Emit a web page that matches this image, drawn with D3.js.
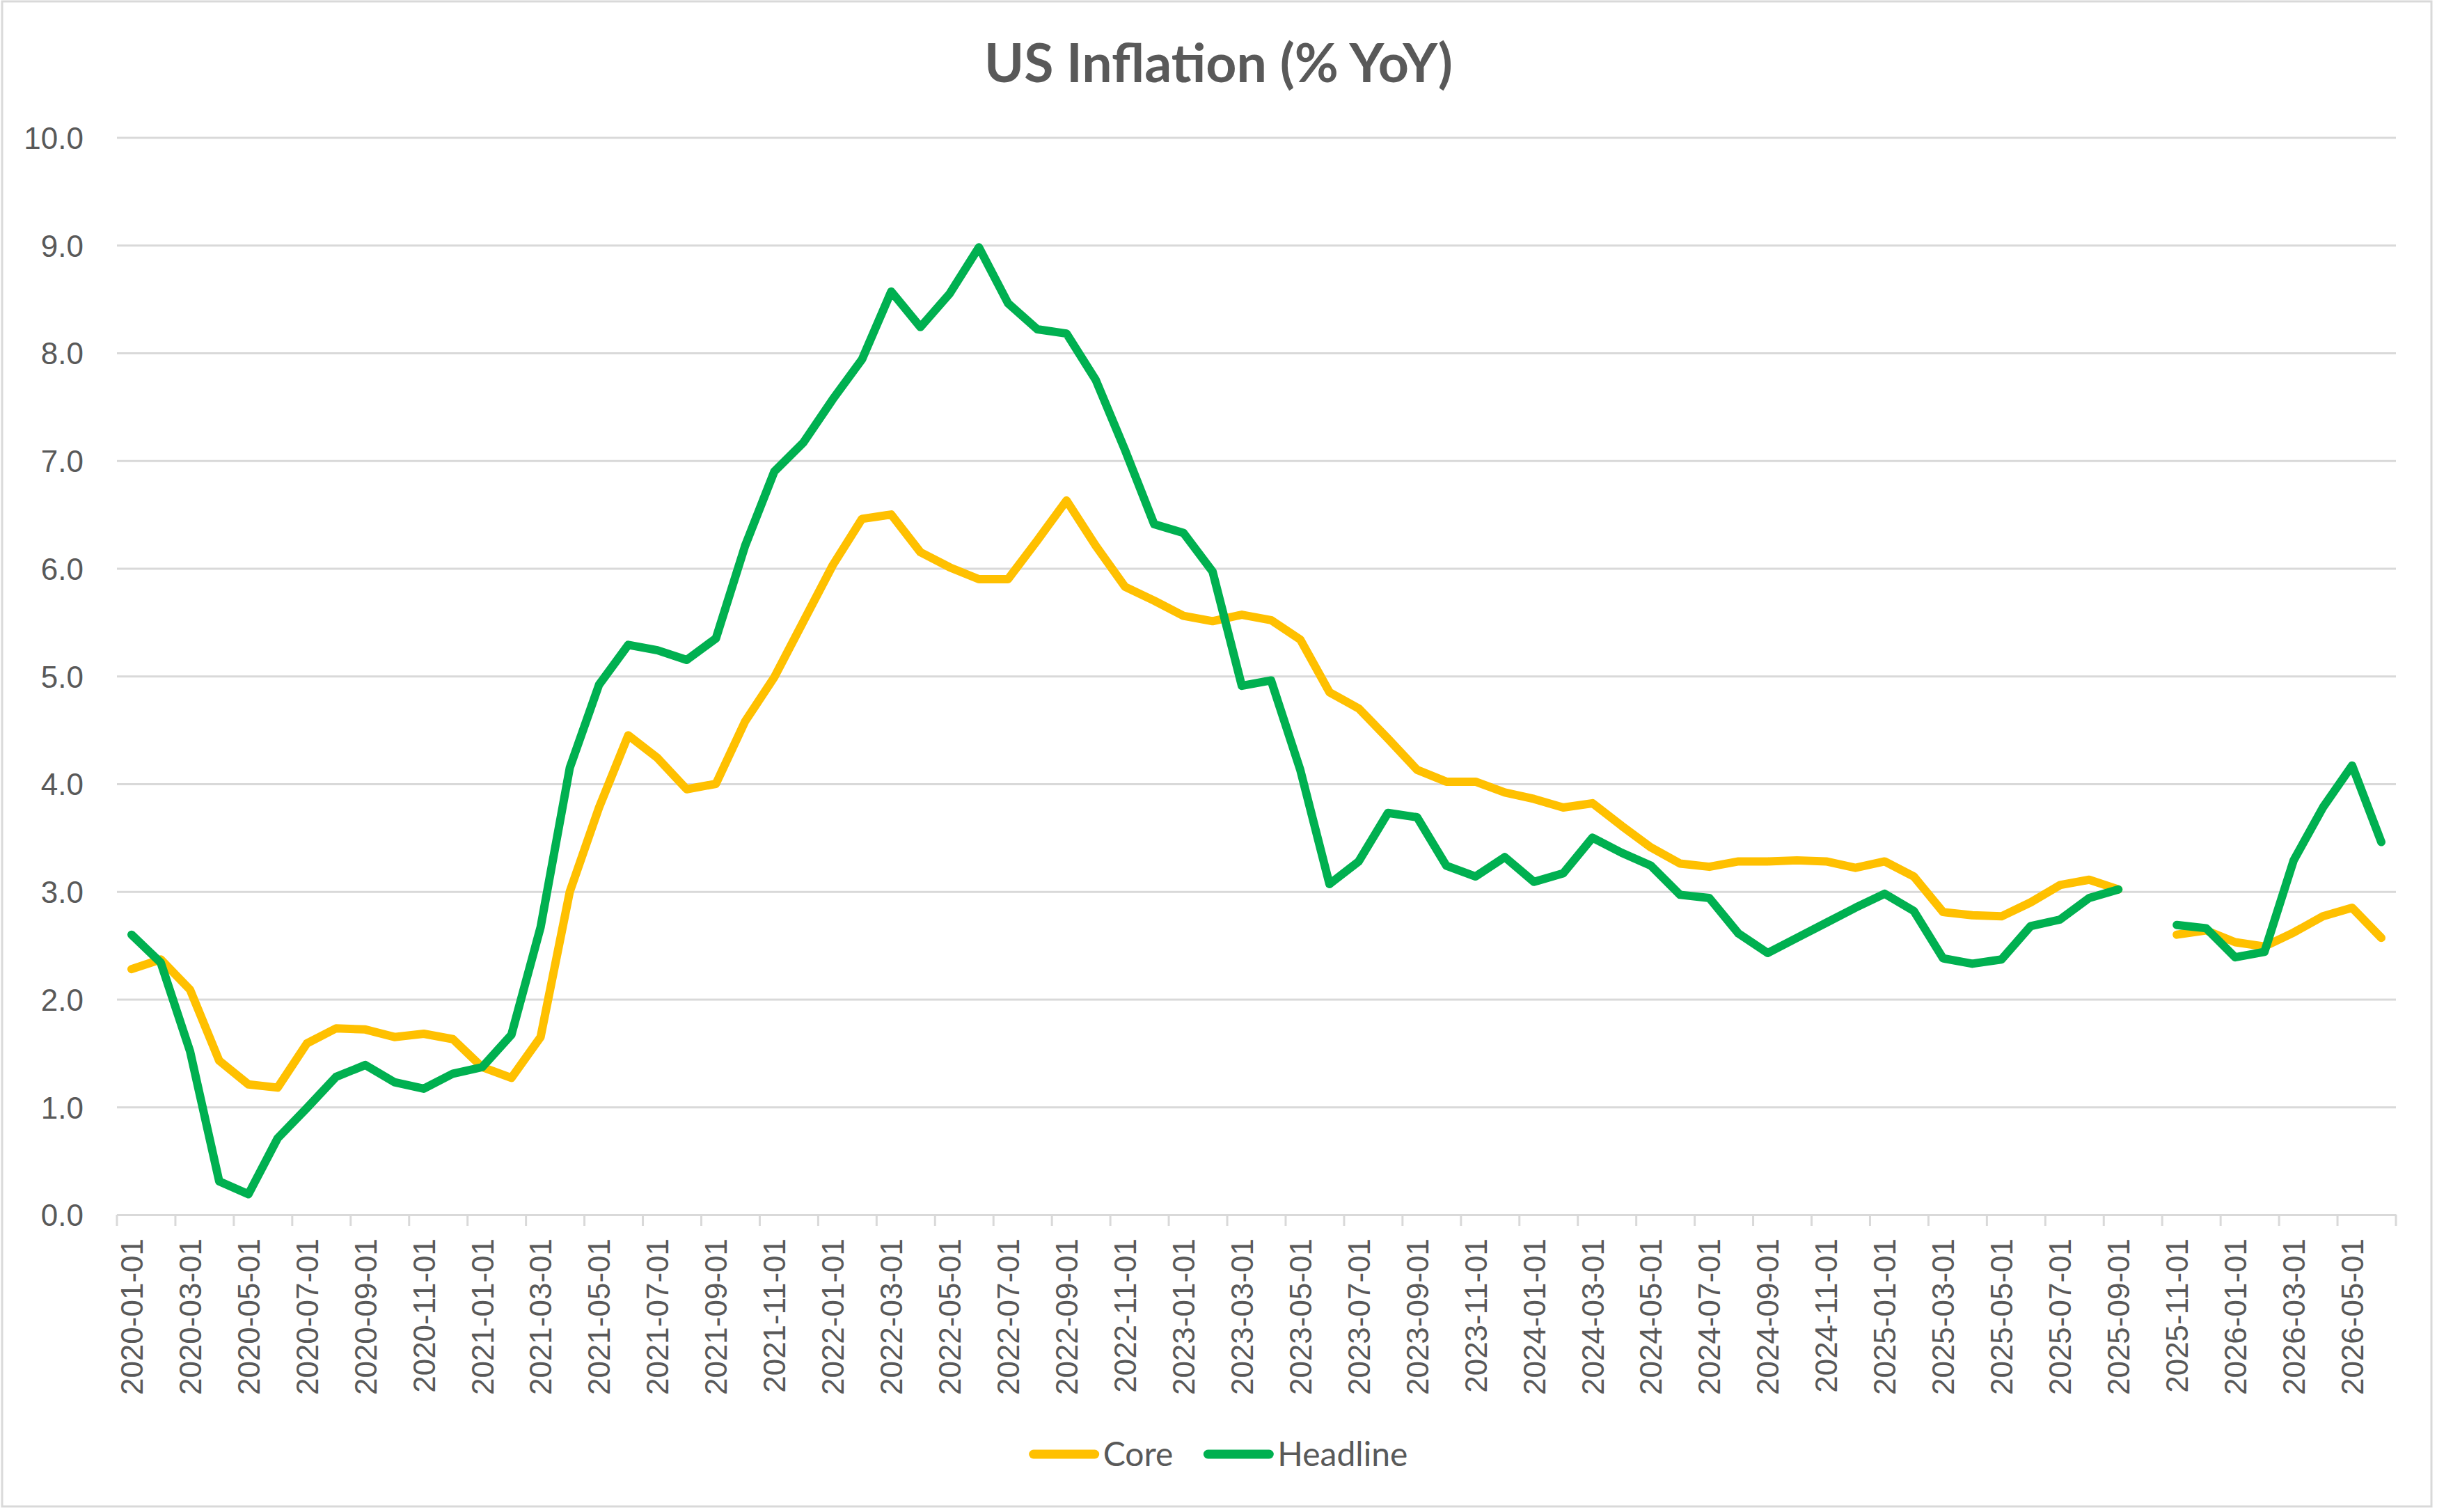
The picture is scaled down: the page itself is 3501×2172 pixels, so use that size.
<!doctype html>
<html lang="en">
<head>
    <meta charset="UTF-8">
    <title>US Inflation</title>
    <style>
        html, body {
            margin: 0;
            padding: 0;
            background: #fff;
        }

        svg {
            display: block;
            font-family: 'Lato', sans-serif;
        }

        .axis text {
            fill: #595959;
            font-size: 44px;
        }

        .grid line, .axis path {
            stroke: #d9d9d9;
            stroke-width: 3px;
        }
    </style>
</head>
<body>
<svg width="3501" height="2172"></svg>
<script src="https://d3js.org/d3.v7.min.js"></script>
<script>
  const categories = [
    '2020-01-01', '2020-02-01', '2020-03-01', '2020-04-01', '2020-05-01', '2020-06-01',
    '2020-07-01', '2020-08-01', '2020-09-01', '2020-10-01', '2020-11-01', '2020-12-01',
    '2021-01-01', '2021-02-01', '2021-03-01', '2021-04-01', '2021-05-01', '2021-06-01',
    '2021-07-01', '2021-08-01', '2021-09-01', '2021-10-01', '2021-11-01', '2021-12-01',
    '2022-01-01', '2022-02-01', '2022-03-01', '2022-04-01', '2022-05-01', '2022-06-01',
    '2022-07-01', '2022-08-01', '2022-09-01', '2022-10-01', '2022-11-01', '2022-12-01',
    '2023-01-01', '2023-02-01', '2023-03-01', '2023-04-01', '2023-05-01', '2023-06-01',
    '2023-07-01', '2023-08-01', '2023-09-01', '2023-10-01', '2023-11-01', '2023-12-01',
    '2024-01-01', '2024-02-01', '2024-03-01', '2024-04-01', '2024-05-01', '2024-06-01',
    '2024-07-01', '2024-08-01', '2024-09-01', '2024-10-01', '2024-11-01', '2024-12-01',
    '2025-01-01', '2025-02-01', '2025-03-01', '2025-04-01', '2025-05-01', '2025-06-01',
    '2025-07-01', '2025-08-01', '2025-09-01', '2025-10-01', '2025-11-01', '2025-12-01',
    '2026-01-01', '2026-02-01', '2026-03-01', '2026-04-01', '2026-05-01', '2026-06-01'
  ]

  // 2025-10 has no print, so both series break there
  const core = [
    2.28, 2.37, 2.09, 1.43, 1.21, 1.18, 1.59, 1.73, 1.72, 1.65, 1.68, 1.63,
    1.37, 1.27, 1.65, 3.00, 3.78, 4.45, 4.24, 3.95, 4.00, 4.58, 4.99, 5.51,
    6.03, 6.46, 6.50, 6.15, 6.01, 5.90, 5.90, 6.26, 6.63, 6.21, 5.83, 5.70,
    5.56, 5.51, 5.57, 5.52, 5.34, 4.85, 4.70, 4.42, 4.13, 4.02, 4.02, 3.92,
    3.86, 3.78, 3.82, 3.61, 3.41, 3.26, 3.23, 3.28, 3.28, 3.29, 3.28, 3.22,
    3.28, 3.14, 2.81, 2.78, 2.77, 2.90, 3.06, 3.11, 3.02, null, 2.60, 2.64,
    2.53, 2.49, 2.62, 2.77, 2.85, 2.57
  ]

  const headline = [
    2.60, 2.34, 1.52, 0.31, 0.19, 0.71, 0.99, 1.28, 1.39, 1.23, 1.17, 1.31,
    1.37, 1.67, 2.67, 4.15, 4.92, 5.29, 5.24, 5.15, 5.35, 6.21, 6.90, 7.17,
    7.57, 7.94, 8.57, 8.24, 8.55, 8.98, 8.46, 8.22, 8.18, 7.75, 7.10, 6.41,
    6.33, 5.97, 4.91, 4.96, 4.13, 3.07, 3.28, 3.73, 3.69, 3.24, 3.14, 3.32,
    3.09, 3.17, 3.50, 3.36, 3.24, 2.97, 2.94, 2.61, 2.43, 2.57, 2.71, 2.85,
    2.98, 2.82, 2.38, 2.33, 2.37, 2.68, 2.74, 2.94, 3.02, null, 2.69, 2.66,
    2.39, 2.44, 3.29, 3.78, 4.17, 3.46
  ]

  const yTicks = [0, 1, 2, 3, 4, 5, 6, 7, 8, 9, 10]
  const xLabels = categories.filter((c, i) => i % 2 === 0)

  const seriesNames = ['Core', 'Headline']
  const seriesColors = ['#FFC000', '#00B050']

  const W = 3501, H = 2172
  const plot = {left: 168, right: 3442, top: 197.5, bottom: 1745}

  const svg = d3.select('svg')

  // chart frame
  svg.append('rect')
    .attr('x', 3).attr('y', 2)
    .attr('width', 3490).attr('height', 2162)
    .attr('fill', '#fff')
    .attr('stroke', '#d9d9d9')
    .attr('stroke-width', 3)

  svg.append('text')
    .attr('x', W / 2)
    .attr('y', 118)
    .attr('text-anchor', 'middle')
    .attr('fill', '#595959')
    .attr('font-size', 77)
    .attr('font-weight', 'bold')
    .text('US Inflation (% YoY)')

  const x = d3.scaleBand()
    .domain(categories)
    .range([plot.left, plot.right])
    .padding(0)

  const y = d3.scaleLinear()
    .domain([0, 10])
    .range([plot.bottom, plot.top])

  // gridlines + y labels
  const yAxis = svg.append('g')
    .attr('class', 'axis grid')
    .attr('transform', `translate(${plot.left},0)`)
    .call(d3.axisLeft(y)
      .tickValues(yTicks)
      .tickFormat(d3.format('.1f'))
      .tickSize(-(plot.right - plot.left))
      .tickPadding(48))
  yAxis.select('.domain').remove()
  yAxis.selectAll('text').attr('dy', '0.36em')

  // x axis line and labels
  const xAxis = svg.append('g')
    .attr('class', 'axis')
    .attr('transform', `translate(0,${plot.bottom})`)
    .call(d3.axisBottom(x).tickValues(xLabels).tickSize(0).tickSizeOuter(0))
  xAxis.selectAll('text')
    .attr('transform', 'rotate(-90)')
    .attr('text-anchor', 'end')
    .attr('x', -34)
    .attr('y', 0)
    .attr('dy', '0.36em')

  // Excel-style tick marks between categories, every second one
  const tickPos = xLabels.map(c => x(c)).concat([plot.right])
  svg.append('g')
    .selectAll('line')
    .data(tickPos)
    .enter()
    .append('line')
    .attr('x1', d => d).attr('x2', d => d)
    .attr('y1', plot.bottom).attr('y2', plot.bottom + 16)
    .attr('stroke', '#d9d9d9')
    .attr('stroke-width', 3)

  const line = d3.line()
    .defined(d => d.v != null)
    .x(d => x(d.c) + x.bandwidth() / 2)
    .y(d => y(d.v))

  const series = [core, headline].map((vals, k) => ({
    name: seriesNames[k],
    color: seriesColors[k],
    points: categories.map((c, i) => ({c: c, v: vals[i]}))
  }))

  svg.append('g')
    .selectAll('path')
    .data(series)
    .enter()
    .append('path')
    .attr('d', d => line(d.points))
    .attr('fill', 'none')
    .attr('stroke', d => d.color)
    .attr('stroke-width', 12)
    .attr('stroke-linecap', 'round')
    .attr('stroke-linejoin', 'round')

  // legend, centred under the plot
  const legend = svg.append('g')
  const legendY = 2089
  let lx = 0
  series.forEach((s, k) => {
    const item = legend.append('g').attr('transform', `translate(${lx},0)`)
    item.append('line')
      .attr('x1', 6).attr('x2', 94)
      .attr('y1', legendY).attr('y2', legendY)
      .attr('stroke', s.color)
      .attr('stroke-width', 13)
      .attr('stroke-linecap', 'round')
    const t = item.append('text')
      .attr('x', 106)
      .attr('y', legendY)
      .attr('dy', '0.36em')
      .attr('fill', '#595959')
      .attr('font-size', 48)
      .text(s.name)
    lx += 106 + t.node().getComputedTextLength() + 44
  })
  const lw = lx - 44
  legend.attr('transform', `translate(${W / 2 - lw / 2},0)`)
</script>
</body>
</html>
